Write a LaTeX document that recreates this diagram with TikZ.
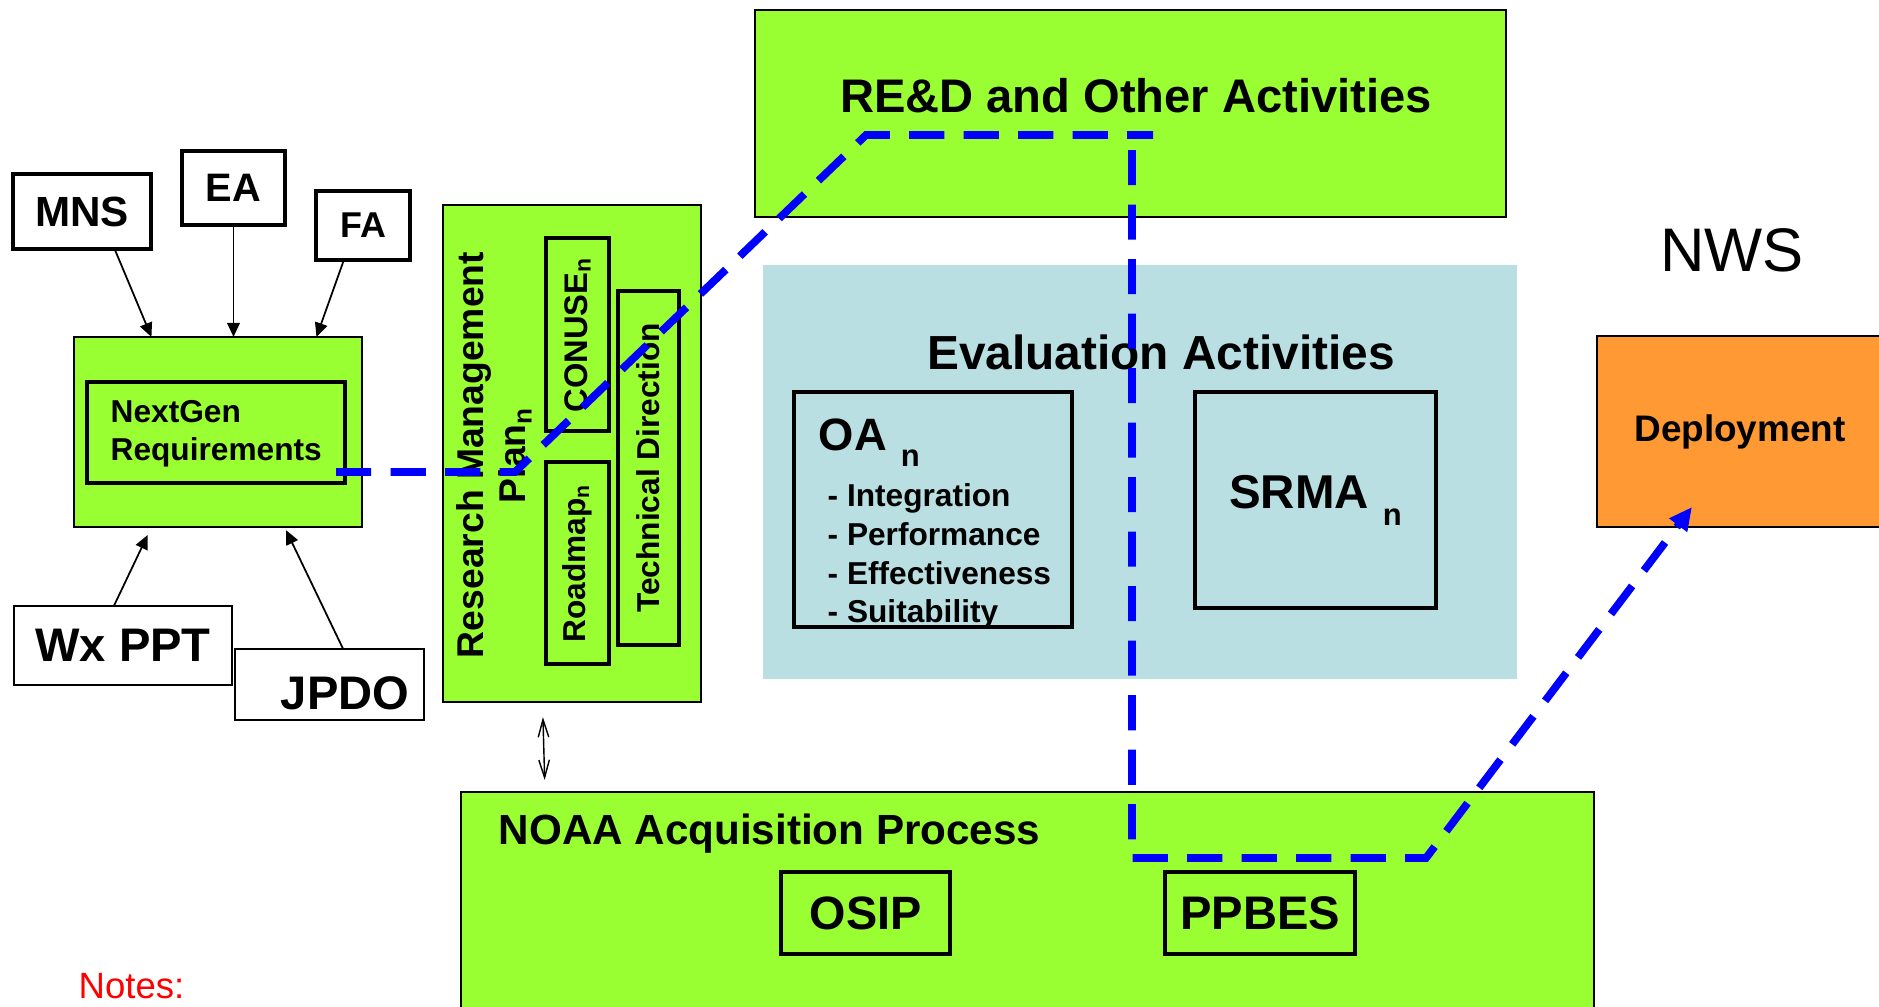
\documentclass[tikz,border=0pt]{standalone}
\usepackage{fontspec}
\setmainfont{Liberation Sans}
\usetikzlibrary{arrows.meta,calc}
\definecolor{ngreen}{RGB}{153,255,51}
\definecolor{evalblue}{RGB}{185,223,226}
\definecolor{deporange}{RGB}{255,153,51}
\newcommand{\fsz}[2]{\fontsize{#1}{#2}\selectfont}

\begin{document}
\begin{tikzpicture}[x=0.01cm,y=-0.01cm,
  greenbox/.style={draw, line width=0.6pt, fill=ngreen, inner sep=0pt, outer sep=0pt},
  srcbox/.style={draw, line width=1pt, fill=white, inner sep=0pt, outer sep=0pt},
  thinbox/.style={draw, line width=0.4pt, fill=white, inner sep=0pt, outer sep=0pt},
  innerbox/.style={draw, line width=1pt, inner sep=0pt, outer sep=0pt},
  feed/.style={line width=0.5pt, -{Triangle[length=4pt,width=3.6pt]}},
  dbl/.style={line width=0.4pt, {Straight Barb[length=5pt,width=3pt]}-{Straight Barb[length=5pt,width=3pt]}},
  planpath/.style={blue, line width=2.2pt, dash pattern=on 10pt off 5.5pt}]
\clip (0,0) rectangle (1879,1006);

% requirement sources
\node[greenbox, minimum width=2.88cm, minimum height=1.90cm] (ngouter) at (218,432) {};
\node[innerbox, minimum width=2.58cm, minimum height=1.01cm] (ngin) at (216,432.5) {};
\node[anchor=west, align=left, inner sep=0pt, font=\bfseries\fsz{9}{10.8}] (ngtext) at (110,434) {NextGen\\Requirements};
\node[srcbox, minimum width=1.38cm, minimum height=0.75cm, font=\bfseries\fsz{12}{14}] (mns) at (82,211.5) {MNS};
\node[srcbox, minimum width=1.03cm, minimum height=0.74cm, font=\bfseries\fsz{11.3}{13}] (ea) at (233.5,188) {EA};
\node[srcbox, minimum width=0.94cm, minimum height=0.69cm, font=\bfseries\fsz{10.2}{12}] (fa) at (363,225.5) {FA};
\node[thinbox, minimum width=2.18cm, minimum height=0.79cm, font=\bfseries\fsz{13.4}{15}] (wxppt) at (123,645.5) {Wx PPT};
\node[thinbox, minimum width=1.89cm, minimum height=0.71cm] (jpdo) at (329.5,684.5) {};
\node[font=\bfseries\fsz{13.4}{15}] (jpdotext) at (345,693) {JPDO};

\draw[feed] (mns.-49) -- (ngouter.125);
\draw[feed] (ea) -- (ea |- ngouter.north);
\draw[feed] (fa.-119) -- (ngouter.44);
\draw[feed, shorten >=2.5pt] (wxppt.103) -- (ngouter.-125);
\draw[feed, shorten >=1pt] (jpdo.69) -- (ngouter.-55);

% research management plan
\node[greenbox, minimum width=2.58cm, minimum height=4.97cm] (rmp) at (572,453.5) {};
\node[rotate=90, align=center, inner sep=0pt, font=\bfseries\fsz{10.6}{12}] (rmptext) at (494,455) {Research Management\\Plan\textsubscript{n}};
\node[innerbox, rotate=90, minimum width=1.93cm, minimum height=0.63cm, font=\bfseries\fsz{9.3}{10}] (conuse) at (577.5,334.5) {CONUSE\textsubscript{n}};
\node[innerbox, rotate=90, minimum width=2.02cm, minimum height=0.63cm, font=\bfseries\fsz{9}{10}] (roadmap) at (577.5,563) {Roadmap\textsubscript{n}};
\node[innerbox, rotate=90, minimum width=3.54cm, minimum height=0.61cm, font=\bfseries\fsz{9}{10}] (techdir) at (648.5,468) {Technical Direction};

% activities
\node[greenbox, minimum width=7.51cm, minimum height=2.07cm] (red) at (1130.5,113.5) {};
\node[font=\bfseries\fsz{13.4}{15}] (redtext) at (1136,96) {RE\&D and Other Activities};
\node[fill=evalblue, inner sep=0pt, outer sep=0pt, minimum width=7.54cm, minimum height=4.14cm] (eval) at (1140,472) {};
\node[font=\bfseries\fsz{13.6}{16}] (evaltext) at (1161,352) {Evaluation Activities};
\node[innerbox, minimum width=2.78cm, minimum height=2.35cm] (oa) at (933,509.5) {};
\node[anchor=base west, inner sep=0pt, font=\bfseries\fsz{12.9}{15}] (oatext) at (818,450) {OA\hspace{4pt}\raisebox{-4.8pt}{\fsz{8.8}{9}n}};
\node[anchor=north west, align=left, inner sep=0pt, font=\bfseries\fsz{9}{11}] (oalist) at (827,483) {- Integration\\- Performance\\- Effectiveness\\- Suitability};
\node[innerbox, minimum width=2.41cm, minimum height=2.16cm, font=\bfseries\fsz{13.5}{16}] (srma) at (1315.5,500) {SRMA\hspace{4pt}\raisebox{-4.8pt}{\fsz{8.8}{9}n}};

\node[font=\fsz{17.5}{20}] (nws) at (1732,250) {NWS};
\node[draw, line width=0.8pt, fill=deporange, inner sep=0pt, outer sep=0pt, minimum width=2.86cm, minimum height=1.91cm, font=\bfseries\fsz{10.5}{12}] (deploy) at (1740,431.5) {Deployment};

% acquisition
\node[greenbox, minimum width=11.33cm, minimum height=2.16cm] (noaa) at (1027.5,900) {};
\node[anchor=base west, inner sep=0pt, font=\bfseries\fsz{12}{14}] (noaatext) at (498,844) {NOAA Acquisition Process};
\node[innerbox, minimum width=1.69cm, minimum height=0.82cm, font=\bfseries\fsz{13.3}{15}] (osip) at (865.5,913) {OSIP};
\node[innerbox, minimum width=1.90cm, minimum height=0.82cm, font=\bfseries\fsz{13.4}{15}] (ppbes) at (1260,913) {PPBES};
\node[anchor=west, inner sep=0pt, text=red, font=\fsz{10.4}{12}] (notes) at (78,986) {Notes:};

\draw[dbl] ($(rmp.south west)+(100,15)$) -- ($(noaa.north west)+(84,-12)$);

% plan path
\coordinate (b1) at (515,472);
\coordinate (b2) at (866,135);
\coordinate (b3) at (1153,135);
\draw[planpath] ($(ngin.south east)+(-9,-11)$) -- (b1) -- (b2) -- (b3);
\coordinate (c1) at (1132,150);
\coordinate (c2) at (1132,858);
\coordinate (c3) at (1426,858);
\draw[planpath, -{Triangle[length=6.5pt,width=6pt]}] (c1) -- (c2) -- (c3) -- ($(deploy.south west)+(95,-20)$);
\end{tikzpicture}
\end{document}
